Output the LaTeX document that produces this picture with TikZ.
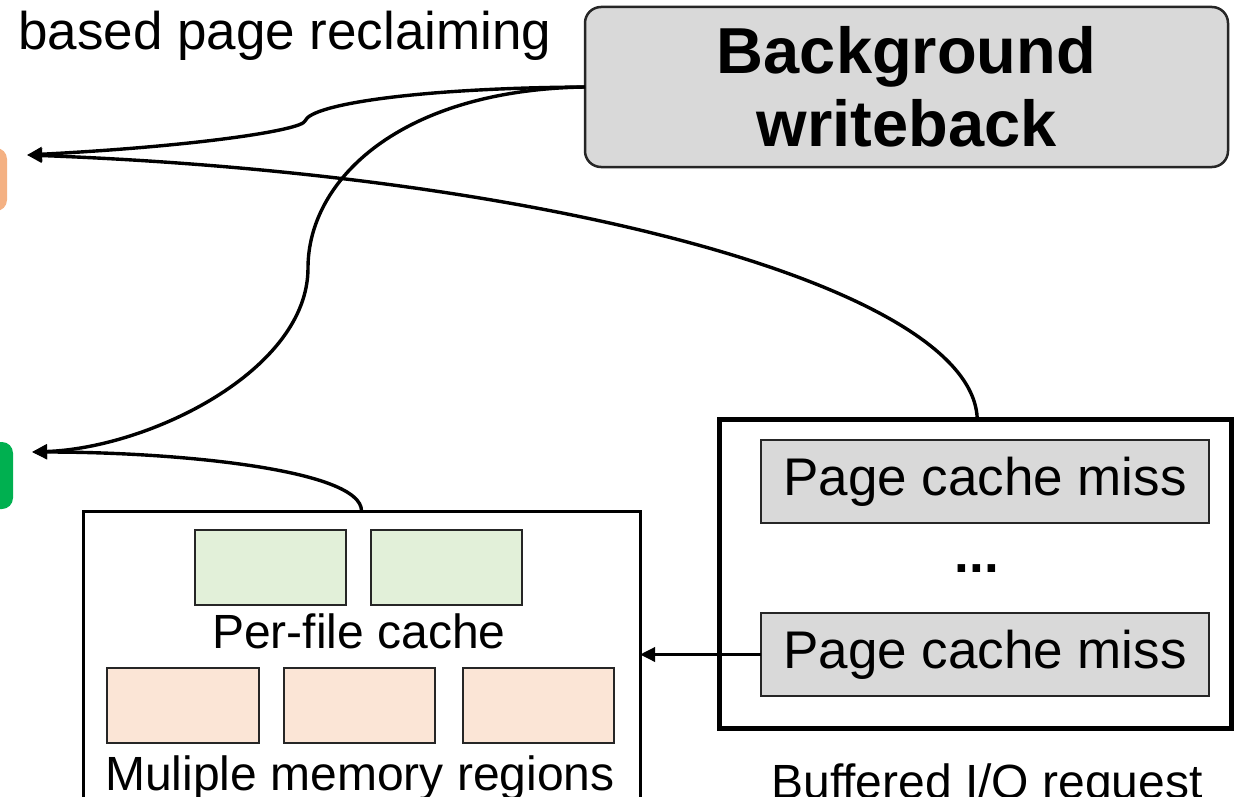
\documentclass[tikz,border=0pt]{standalone}
\usepackage{fontspec}
\setmainfont{Liberation Sans}
\usetikzlibrary{arrows.meta}
\definecolor{boxgray}{HTML}{D9D9D9}
\definecolor{cachegreen}{HTML}{E2F0D9}
\definecolor{regionorange}{HTML}{FBE5D6}
\definecolor{taborange}{HTML}{F4B183}
\definecolor{tabgreen}{HTML}{00B050}
\definecolor{edgedark}{HTML}{262626}
\begin{document}
\begin{tikzpicture}[x=1pt,y=-1pt,
  cell/.style={draw=edgedark, line width=1.5pt, inner sep=0pt, outer sep=0pt},
  frame/.style={draw=black, inner sep=0pt, outer sep=0pt},
  tab/.style={rounded corners=11pt, inner sep=0pt, outer sep=0pt},
  link/.style={draw=black, line width=3.4pt},
  tip/.style={-{Triangle[length=15pt,width=14pt]}},
  bigtext/.style={font=\fontsize{53}{61}\selectfont},
  midtext/.style={font=\fontsize{48}{56}\selectfont}]
\useasboundingbox (0,0) rectangle (1236,797);

% coloured tabs at the left edge
\node[tab, fill=taborange, minimum width=80pt, minimum height=63pt] (orng) at (-33,179.5) {};
\node[tab, fill=tabgreen, minimum width=80pt, minimum height=67pt] (grn) at (-27,475.5) {};
\coordinate (otip) at (27,155);
\coordinate (gtip) at (32,452);

% caption at the top left
\node[bigtext, anchor=base west, inner sep=0pt] (reclaim) at (18,50) {based page reclaiming};

% background writeback box
\node[draw=edgedark, line width=2.5pt, fill=boxgray, rounded corners=16pt,
      minimum width=643pt, minimum height=160pt, inner sep=0pt, outer sep=0pt,
      align=center, font=\bfseries\fontsize{65}{73}\selectfont] (bw) at (906.5,87)
      {Background\\writeback};

% per-file cache and memory regions
\node[frame, line width=3pt, minimum width=557pt, minimum height=320pt] (pf) at (361.5,671) {};
\node[cell, fill=cachegreen, minimum width=151pt, minimum height=75pt] (c1) at (270.5,567.5) {};
\node[cell, fill=cachegreen, minimum width=151pt, minimum height=75pt] (c2) at (446.5,567.5) {};
\node[midtext, anchor=base, inner sep=0pt] (pflabel) at (359,648) {Per-file cache};
\node[cell, fill=regionorange, minimum width=152pt, minimum height=75pt] (r1) at (183,705.5) {};
\node[cell, fill=regionorange, minimum width=151pt, minimum height=75pt] (r2) at (359.5,705.5) {};
\node[cell, fill=regionorange, minimum width=151pt, minimum height=75pt] (r3) at (538.5,705.5) {};
\node[midtext, anchor=base, inner sep=0pt] (mrlabel) at (360,790) {Muliple memory regions};

% buffered I/O request
\node[frame, line width=5pt, minimum width=511.5pt, minimum height=309pt] (buf) at (975.25,574) {};
\node[cell, fill=boxgray, minimum width=448pt, minimum height=83pt, bigtext] (m1) at (985,481.5) {Page cache miss};
\node[bigtext, inner sep=0pt, anchor=base] (dots) at (977,572) {\textbf{...}};
\node[cell, fill=boxgray, minimum width=448pt, minimum height=83pt, bigtext] (m2) at (985,654.5) {Page cache miss};
\node[midtext, anchor=base, inner sep=0pt] (buflabel) at (987,798) {Buffered I/O request};

% connectors
\draw[link, tip] (bw.west) .. controls (420,88) and (311,104) .. (305,121)
                 .. controls (302,130) and (200,146) .. (otip);
\draw[link, tip] (bw.west) .. controls (400,90) and (308,180) .. (308,268)
                 .. controls (308,370) and (150,448) .. (gtip);
\draw[link, tip] ([xshift=2pt]buf.north) .. controls (974,290) and (560,175) .. (otip);
\draw[link, tip] (pf.north) .. controls (362,470) and (180,452) .. (gtip);
\draw[link, tip] (m2.west) -- (m2.west -| pf.east);
\end{tikzpicture}
\end{document}
